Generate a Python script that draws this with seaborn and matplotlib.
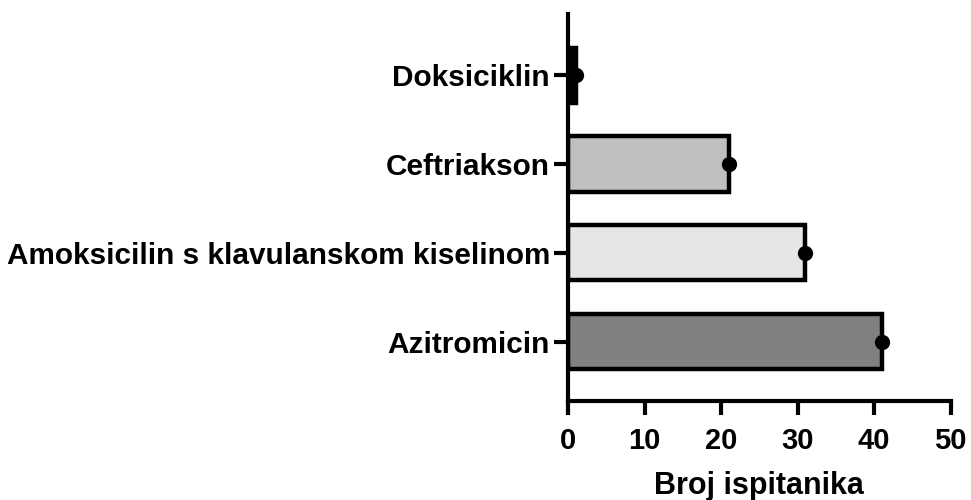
import numpy as np
import matplotlib
matplotlib.use("Agg")
import matplotlib.pyplot as plt
import pandas as pd
import seaborn as sns

# data
lijekovi = ['Doksiciklin', 'Ceftriakson',
            'Amoksicilin s klavulanskom kiselinom', 'Azitromicin']
broj = [1, 21, 31, 41]
boje = ['#000000', '#bfbfbf', '#e6e6e6', '#808080']
x_ticks = [0, 10, 20, 30, 40, 50]

sns.set_style('ticks')
plt.rcParams['font.family'] = ['Liberation Sans', 'DejaVu Sans']
plt.rcParams['font.weight'] = 'bold'

df = pd.DataFrame({'lijek': lijekovi, 'broj': broj})

fig = plt.figure(figsize=(9.71, 5.0), dpi=100)
ax = fig.add_axes([0.585, 0.198, 0.394, 0.774])

sns.barplot(data=df, x='broj', y='lijek', hue='lijek', palette=boje,
            order=lijekovi, hue_order=lijekovi, legend=False,
            width=0.62, edgecolor='black', linewidth=3.2, ax=ax)
sns.stripplot(data=df, x='broj', y='lijek', order=lijekovi, color='black',
              size=11, jitter=False, zorder=5, ax=ax)

ax.set_xlim(0, 50)
ax.set_ylim(3.67, -0.69)
ax.set_xticks(x_ticks)
ax.set_xlabel('Broj ispitanika', fontsize=22, fontweight='bold',
              color='black', labelpad=11)
ax.set_ylabel('')

for side in ['top', 'right']:
    ax.spines[side].set_visible(False)
for side in ['left', 'bottom']:
    ax.spines[side].set_linewidth(3)
    ax.spines[side].set_color('black')

ax.tick_params(axis='x', length=10, width=3, pad=9, labelsize=21, colors='black')
ax.tick_params(axis='y', length=10, width=3, pad=3, labelsize=21.4, colors='black')
for lab in ax.get_xticklabels() + ax.get_yticklabels():
    lab.set_fontweight('bold')

fig.savefig('out.png', dpi=100)
